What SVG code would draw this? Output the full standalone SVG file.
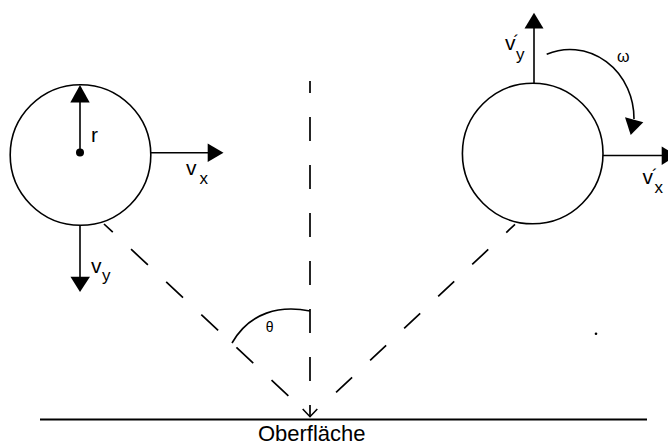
<svg xmlns="http://www.w3.org/2000/svg" width="668" height="443" viewBox="0 0 668 443">
<style>
.ln{stroke:#000;stroke-width:1.6;fill:none}
.ds{stroke:#000;stroke-width:1.7;fill:none}
.hd{fill:#000;stroke:none}
.t{font-family:"Liberation Sans",Arial,sans-serif;fill:#000}
.m{font-size:21px}
.s{font-size:17px}
</style>
<rect width="668" height="443" fill="#fff"/>
<g id="ball-left">
<circle class="ln" cx="80.5" cy="155" r="70.3"/>
<circle cx="80" cy="152.5" r="4"/>
<text class="t m" x="91" y="141.7">r</text>
</g>
<g id="ball-right">
<circle class="ln" cx="532.7" cy="153.5" r="70.3"/>
</g>
<g id="surface">
<line x1="40" y1="419.5" x2="647" y2="419.5" stroke="#000" stroke-width="2"/>
<text class="t" x="311.7" y="441" font-size="22" text-anchor="middle">Oberfläche</text>
</g>
<g id="connectors">
<line class="ln" x1="80" y1="152" x2="80" y2="101"/>
<polygon class="hd" points="80,85 70.3,102.5 89.7,102.5"/>
<line class="ln" x1="151" y1="152.7" x2="209" y2="152.7"/>
<polygon class="hd" points="223.5,152.7 207.7,143.5 207.7,162"/>
<line class="ln" x1="80" y1="226" x2="80" y2="278"/>
<polygon class="hd" points="80,292 70.5,276.7 90,276.7"/>
<line class="ln" x1="534" y1="83" x2="534" y2="27"/>
<polygon class="hd" points="534,12.7 524.5,28.5 543.5,28.5"/>
<line class="ln" x1="603" y1="155.5" x2="663" y2="155.5"/>
<polygon class="hd" points="661.7,146.5 661.7,165 677,155.5"/>
<path class="ln" d="M546.7,54.3 A64,69 0 0 1 634,119"/>
<polygon class="hd" points="625,117.3 643.3,122.3 630.7,135"/>
<line class="ds" x1="310" y1="81" x2="310" y2="417" stroke-dasharray="24 24" stroke-dashoffset="12"/>
<polyline class="ln" points="302.7,409 310,416.7 317.3,409"/>
<line class="ds" x1="104" y1="224" x2="302" y2="408.5" stroke-dasharray="23 25" stroke-dashoffset="11"/>
<line class="ds" x1="515" y1="224.3" x2="320" y2="407.5" stroke-dasharray="22 24.7" stroke-dashoffset="10"/>
<path class="ln" d="M310,311 C280,305 250,312 232,343"/>
</g>
<g id="labels">
<text class="t m" x="186" y="175">v</text>
<text class="t s" x="199.5" y="184">x</text>
<text class="t m" x="91" y="273">v</text>
<text class="t s" x="102" y="280.5">y</text>
<text class="t m" x="505" y="50">v</text>
<text class="t s" x="513.5" y="47">´</text>
<text class="t s" x="516" y="59.7">y</text>
<text class="t m" x="642.5" y="184.3">v</text>
<text class="t s" x="652" y="181">´</text>
<text class="t s" x="654.5" y="193.3">x</text>
<text class="t" x="623.3" y="61.7" font-size="16" text-anchor="middle">ω</text>
<text class="t" x="269.7" y="331.7" font-size="14" text-anchor="middle">θ</text>
</g>
<circle cx="596" cy="333.7" r="1.3"/>
</svg>
